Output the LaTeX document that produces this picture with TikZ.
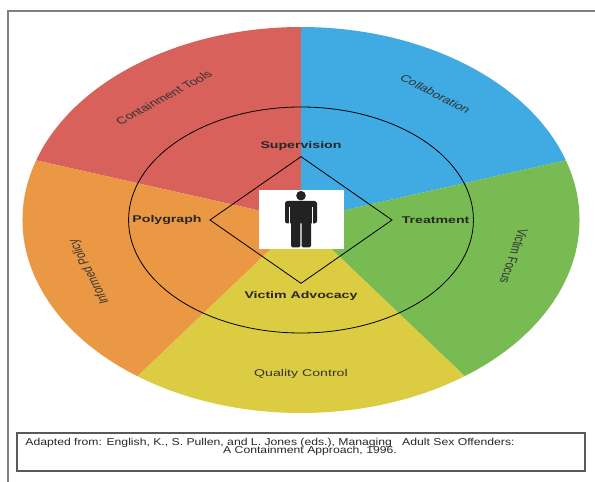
\documentclass[tikz,border=0pt]{standalone}
\usepackage{fontspec}
\setmainfont{Liberation Sans}
\usetikzlibrary{positioning,shapes.geometric}

\definecolor{wedgered}{RGB}{216,97,92}
\definecolor{wedgeblue}{RGB}{64,170,226}
\definecolor{wedgegreen}{RGB}{120,187,82}
\definecolor{wedgeyellow}{RGB}{219,204,66}
\definecolor{wedgeorange}{RGB}{234,152,68}
\definecolor{figcol}{RGB}{34,34,34}

\tikzset{
  ringlabel/.style={font=\fontsize{9.8}{11}\selectfont, text=black!80, inner sep=0pt},
  hublabel/.style={font=\fontsize{9.8}{11}\selectfont\bfseries, text=black!85, inner sep=1pt},
  hub/.style={draw, diamond, minimum width=126.5pt, minimum height=127pt, inner sep=0pt, line width=0.8pt},
  citebox/.style={draw=black!65, line width=1.1pt, minimum width=568pt, minimum height=38pt, inner sep=0pt},
  citetext/.style={font=\fontsize{10}{11}\selectfont, text=black!85, xscale=1.22, inner sep=0pt},
}

\begin{document}
\begin{tikzpicture}[x=1pt,y=1pt]
  \useasboundingbox (0,0) rectangle (595,482);
  % page frame
  \draw[black!50, line width=1.5pt] (8,-5) -- (8,471) -- (600,471);

  \begin{scope}[shift={(301,262)}, xscale=1.443, transform shape]
    % Outer wedges
    \fill[wedgered] (0,0) -- (90:193) arc[start angle=90, end angle=162, radius=193] -- cycle;
    \fill[wedgeblue] (0,0) -- (18:193) arc[start angle=18, end angle=90, radius=193] -- cycle;
    \fill[wedgegreen] (0,0) -- (-54:193) arc[start angle=-54, end angle=18, radius=193] -- cycle;
    \fill[wedgeyellow] (0,0) -- (-126:193) arc[start angle=-126, end angle=-54, radius=193] -- cycle;
    \fill[wedgeorange] (0,0) -- (162:193) arc[start angle=162, end angle=234, radius=193] -- cycle;

    % Inner ring
    \draw[line width=0.8pt] (0,0) ellipse [x radius=119.5, y radius=113];

    % Diamond and its corners
    \node[hub] (hub) at (0,0) {};
    \node[hublabel, above=4pt of hub.north] (sup) {Supervision};
    \node[hublabel, below=6pt of hub.south] (advoc) {Victim Advocacy};
    \node[hublabel, left=4pt of hub.west] (poly) {Polygraph};
    \node[hublabel, right=5pt of hub.east] (treat) {Treatment};

    % Ring labels
    \node[ringlabel, rotate=37.8] (tools) at (127.8:155) {Containment Tools};
    \node[ringlabel, rotate=-36.5] (collab) at (53.5:156.7) {Collaboration};
    \node[ringlabel, rotate=-103.7] (focus) at (-13.7:152) {Victim Focus};
    \node[ringlabel] (quality) at (-90:154) {Quality Control};
    \node[ringlabel, rotate=109.5] (policy) at (199.5:155.5) {Informed Policy};
  \end{scope}

  % Person in the middle
  \node[fill=white, minimum width=85pt, minimum height=59pt, inner sep=0pt] (pic) at (301.5,262.5) {};
  \fill[figcol] (301,286.3) circle[radius=4.8];
  \fill[figcol, rounded corners=2.5pt] (285,281) rectangle (317,258.5);
  \draw[white, line width=0.9pt] (289.9,275) -- (289.9,257) (312.1,275) -- (312.1,257);
  \fill[figcol, rounded corners=1.5pt] (291,263) rectangle (300.4,234.5);
  \fill[figcol, rounded corners=1.5pt] (301.6,263) rectangle (311,234.5);

  % Source note
  \node[citebox] (cite) at (301,30) {};
  \node[citetext] (citeA) at (270,39) {Adapted from: English, K., S. Pullen, and L. Jones (eds.), Managing\ \ \ Adult Sex Offenders:};
  \node[citetext] (citeB) at (310,31.5) {A Containment Approach, 1996.};
\end{tikzpicture}
\end{document}
